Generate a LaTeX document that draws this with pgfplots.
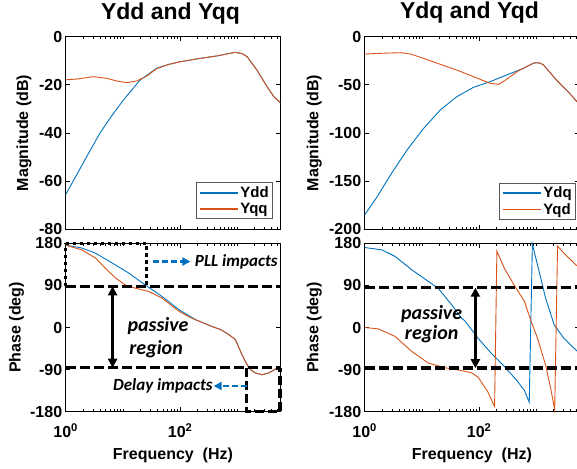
\documentclass[border=0pt]{standalone}
\usepackage{fontspec}
\setmainfont{Liberation Sans}
\newfontfamily\calibri{Carlito}
\usepackage{pgfplots}
\pgfplotsset{compat=1.18}
\usetikzlibrary{arrows.meta}
\definecolor{mblue}{RGB}{0,114,189}
\definecolor{morange}{RGB}{217,83,25}
\definecolor{pptblue}{RGB}{0,112,192}
\newcommand{\tkfont}{\bfseries\fontsize{16}{19}\selectfont}
\pgfplotsset{every axis/.append style={scale only axis, width=214.5pt,
    tick align=inside, major tick length=4.5pt, minor tick length=2.5pt,
    axis line style={line width=0.9pt},
    tick label style={font=\tkfont},
    label style={font=\tkfont},
    xticklabel style={anchor=base, yshift=-26pt},
    clip=false,
    legend cell align=left,
    legend style={draw=black!65, line width=0.8pt, font=\bfseries\fontsize{15}{17}\selectfont, inner sep=2pt, row sep=0pt},
    title style={font=\bfseries\fontsize{23}{27}\selectfont, at={(0.5,1)}, anchor=base, yshift=11.7pt, xshift=-2.5pt}},
  every axis plot/.append style={line width=0.9pt}}
\tikzset{
  every tick/.style={black, line width=0.8pt},
  dline/.style={black, line width=3.5pt, dash pattern=on 10pt off 4pt},
  dbl/.style={black, line width=2.6pt, {Triangle[width=9pt,length=9pt]}-{Triangle[width=9pt,length=9pt]}},
  barrow/.style={pptblue, line width=2.6pt, dash pattern=on 6pt off 3pt, -{Triangle[width=8pt,length=8pt]}},
  ann/.style={font=\calibri\bfseries\itshape\fontsize{20}{22}\selectfont, anchor=base, inner sep=0pt},
  ann2/.style={font=\calibri\bfseries\itshape\fontsize{17}{19}\selectfont, inner sep=0pt},
}
\begin{document}
\begin{tikzpicture}
\useasboundingbox (0,0) rectangle (577pt,468pt);
% ---------------- top left
\begin{axis}[at={(65.7pt,238.7pt)}, anchor=south west, height=192.6pt,
  xmode=log, xmin=1, xmax=5600, xtick={1,100}, xticklabels={},
  minor xtick={2,3,4,5,6,7,8,9,10,20,30,40,50,60,70,80,90,200,300,400,500,600,700,800,900,1000,2000,3000,4000,5000},
  ymin=-80, ymax=0, ytick={-80,-60,-40,-20,0}, yticklabels={-80,-60,-40,-20,0},
  title={Ydd and Yqq}, ylabel={Magnitude (dB)},
  ylabel style={at={(axis description cs:-0.194,0.5)}, anchor=center},
  legend image code/.code={\draw[#1, line width=1.6pt] (0pt,0pt) -- (38pt,0pt);},
  legend style={at={(0.967,0.052)}, anchor=south east}]
\addplot[mblue] coordinates {(1,-65.6) (1.585,-57) (2.33,-49.8) (3.98,-40) (6.31,-33) (10.2,-26.3) (19.95,-18) (38.9,-13.1) (63,-11.5) (100,-10.4) (224,-9.0) (437,-8.0) (708,-7.0) (912,-6.5) (1202,-7.0) (1479,-8.3) (2188,-13.8) (3311,-20.8) (4365,-25) (5600,-27.3)};
\addplot[morange] coordinates {(1,-17.9) (1.55,-17.6) (3.02,-16.6) (5.25,-17.3) (7.76,-18.4) (11.7,-19.1) (17.4,-18.4) (26.3,-16.3) (33,-14.5) (38.9,-13.3) (63,-11.5) (100,-10.4) (224,-9.0) (437,-8.0) (708,-7.0) (912,-6.5) (1202,-7.0) (1479,-8.3) (2188,-13.8) (3311,-20.8) (4365,-25) (5600,-27.3)};
\legend{Ydd,Yqq}
\end{axis}
% ---------------- top right
\begin{axis}[at={(364.7pt,238.7pt)}, anchor=south west, height=192.6pt,
  xmode=log, xmin=1, xmax=5600, xtick={1,100}, xticklabels={},
  minor xtick={2,3,4,5,6,7,8,9,10,20,30,40,50,60,70,80,90,200,300,400,500,600,700,800,900,1000,2000,3000,4000,5000},
  ymin=-200, ymax=0, ytick={-200,-150,-100,-50,0}, yticklabels={-200,-150,-100,-50,0},
  title={Ydq and Yqd}, ylabel={Magnitude (dB)},
  ylabel style={at={(axis description cs:-0.235,0.5)}, anchor=center},
  legend image code/.code={\draw[#1, line width=1.6pt] (0pt,0pt) -- (38pt,0pt);},
  legend style={at={(0.986,0.047)}, anchor=south east}]
\addplot[mblue] coordinates {(1,-185) (1.66,-166) (2.82,-143.6) (5.5,-117.6) (10.7,-95.2) (20.9,-76.1) (40.7,-62.3) (79.4,-52.6) (155,-46.7) (302,-39.8) (589,-32.9) (891,-27.5) (1000,-27) (1148,-27.5) (1318,-29) (2239,-45) (3802,-58.8) (5129,-67.5) (5600,-69.5)};
\addplot[morange] coordinates {(1,-18) (2,-17.2) (4.27,-16.6) (6.31,-18) (10.7,-22.5) (20.9,-28.7) (40.7,-34.6) (79.4,-41.5) (155,-48.4) (219,-49.5) (282,-45.5) (398,-39) (500,-35) (589,-32.9) (891,-27.5) (1000,-27) (1148,-27.5) (1318,-29) (2239,-45) (3802,-58.8) (5129,-67.5) (5600,-69.5)};
\legend{Ydq,Yqd}
\end{axis}
% ---------------- bottom left
\begin{axis}[at={(65.7pt,56.3pt)}, anchor=south west, height=168.4pt,
  xmode=log, xmin=1, xmax=5600, xtick={1,100}, xticklabels={10\textsuperscript{0},10\textsuperscript{2}},
  minor xtick={2,3,4,5,6,7,8,9,10,20,30,40,50,60,70,80,90,200,300,400,500,600,700,800,900,1000,2000,3000,4000,5000},
  ymin=-180, ymax=180, ytick={-180,-90,0,90,180}, yticklabels={-180,-90,0,90,180},
  xlabel={Frequency\ \ (Hz)}, xlabel style={at={(axis description cs:0.5,-0.281)}, anchor=base},
  ylabel={Phase (deg)}, ylabel style={at={(axis description cs:-0.229,0.5)}, anchor=center}]
\addplot[mblue] coordinates {(1,176) (1.905,170) (3.31,159) (6.46,138) (12.6,116.5) (24.5,91) (47.9,66.7) (95.5,38) (186,16.7) (363,2) (500,-4) (708,-15) (923,-26) (1202,-58) (1479,-79.5) (1700,-90) (2042,-97) (2692,-101) (3548,-97) (4898,-87) (5600,-84)};
\addplot[morange] coordinates {(1,176) (1.905,166) (3.31,148.6) (4.9,127) (7.41,106) (10.96,91) (16.6,84) (28.2,77) (47.9,63) (95.5,34.6) (150,21.5) (186,16.5) (363,2) (500,-4) (708,-15) (923,-26) (1202,-58) (1479,-79.5) (1700,-90) (2042,-97) (2692,-101) (3548,-97) (4898,-87) (5600,-84)};
\addplot[dline, forget plot] coordinates {(1,88) (5600,88)};
\addplot[dline, forget plot] coordinates {(1,-86) (5600,-86)};
\addplot[black, line width=3.5pt, dash pattern=on 3.5pt off 3.5pt, forget plot] coordinates {(1,180) (26,180) (26,88)};
\addplot[black, line width=3.5pt, dash pattern=on 3.5pt off 3.5pt, forget plot] coordinates {(1,88) (1,180)};
\addplot[black, line width=3.5pt, dash pattern=on 9pt off 4pt, forget plot] coordinates {(1445,-86) (1445,-180) (5600,-180) (5600,-86)};
\draw[dbl] (axis cs:6.6,88) -- (axis cs:6.6,-86);
\node[ann] at (axis cs:41,-9.6) {passive};
\node[ann] at (axis cs:38,-58) {region};
\draw[barrow] (axis cs:33,141) -- (axis cs:151,141);
\node[ann2, anchor=west] at (axis cs:180,141) {PLL impacts};
\draw[barrow] (axis cs:1479,-125) -- (axis cs:386,-125);
\node[ann2, anchor=east] at (axis cs:372,-125) {Delay impacts};
\end{axis}
% ---------------- bottom right
\begin{axis}[at={(364.7pt,56.3pt)}, anchor=south west, height=168.4pt,
  xmode=log, xmin=1, xmax=5600, xtick={1,100}, xticklabels={10\textsuperscript{0},10\textsuperscript{2}},
  minor xtick={2,3,4,5,6,7,8,9,10,20,30,40,50,60,70,80,90,200,300,400,500,600,700,800,900,1000,2000,3000,4000,5000},
  ymin=-180, ymax=180, ytick={-180,-90,0,90,180}, yticklabels={-180,-90,0,90,180},
  xlabel={Frequency\ \ (Hz)}, xlabel style={at={(axis description cs:0.5,-0.281)}, anchor=base},
  ylabel={Phase (deg)}, ylabel style={at={(axis description cs:-0.235,0.5)}, anchor=center}]
\addplot[mblue] coordinates {(1,171) (2,166) (3.39,152) (6.61,123.5) (12.9,98.7) (19.5,83) (33.1,48.6) (49,20) (55.5,15) (74.1,-5) (95.5,-22.8) (162,-55) (275,-83) (468,-115) (620,-135) (750,-160) (851,178) (1047,134) (1445,63) (2042,6) (3020,-23) (4898,-48) (5600,-55)};
\addplot[morange] coordinates {(1,0) (1.74,-3) (3.39,-19) (6.61,-51) (12.9,-76) (25.1,-86) (49,-92) (74,-97) (95.5,-106) (141,-137) (186,-169) (204,163) (275,127) (407,91) (617,56) (794,16) (1047,-23) (1445,-80) (1778,-130) (2089,-176) (2344,174) (3020,159) (4898,134) (5600,128)};
\addplot[dline, forget plot] coordinates {(1,85) (5600,85)};
\addplot[dline, forget plot] coordinates {(1,-87) (5600,-87)};
\draw[dbl] (axis cs:86,85) -- (axis cs:86,-87);
\node[ann] at (axis cs:14.8,16.7) {passive};
\node[ann] at (axis cs:14.8,-26) {region};
\end{axis}
\end{tikzpicture}
\end{document}
